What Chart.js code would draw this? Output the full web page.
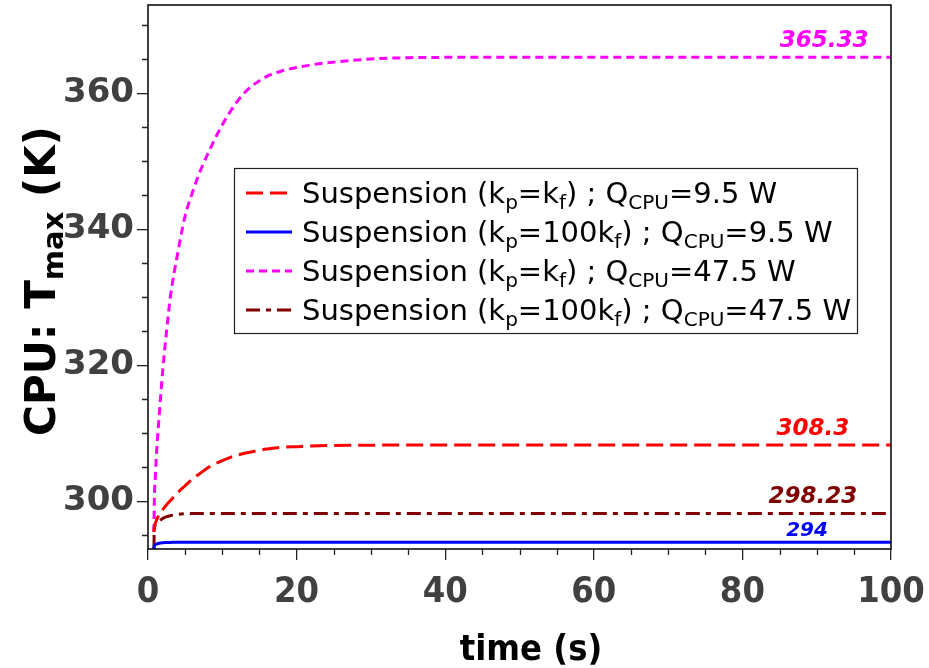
<!DOCTYPE html>
<html>
<head>
<meta charset="utf-8">
<script src="https://cdn.jsdelivr.net/npm/chart.js@4.4.1/dist/chart.umd.min.js"></script>
<style>
  html, body { margin: 0; padding: 0; background: #fff; }
  #wrap { width: 929px; height: 668px; }
</style>
</head>
<body>
<div id="wrap"><canvas id="chart" width="929" height="668"></canvas></div>
<script>
// time axis (s), shared by all four curves
const times = [0.8, 0.85, 1, 1.2, 1.5, 2, 2.5, 3, 4, 5, 6, 7, 8, 9, 10, 11, 12, 13, 14, 16, 18, 20, 22, 25, 30, 35, 40, 50, 60, 70, 80, 90, 100];

// CPU max temperature (K)
const redVals     = [295.5, 296.2, 296.8, 297.4, 298.0, 298.8, 299.5, 300.1, 301.3, 302.3, 303.3, 304.1, 304.9, 305.5, 306.0, 306.45, 306.8, 307.08, 307.3, 307.7, 307.95, 308.05, 308.15, 308.22, 308.27, 308.3, 308.3, 308.3, 308.3, 308.3, 308.3, 308.3, 308.3];
const blueVals    = [293, 293.5, 293.65, 293.75, 293.85, 293.92, 293.95, 293.97, 294, 294, 294, 294, 294, 294, 294, 294, 294, 294, 294, 294, 294, 294, 294, 294, 294, 294, 294, 294, 294, 294, 294, 294, 294];
const magentaVals = [295.5, 300, 304, 308, 312.5, 319.5, 325, 330, 336.5, 342, 345.5, 348.5, 351, 353.3, 355.4, 357.2, 358.8, 360.1, 361.1, 362.5, 363.3, 363.8, 364.2, 364.6, 365.05, 365.25, 365.3, 365.33, 365.33, 365.33, 365.33, 365.33, 365.33];
const darkredVals = [293, 296.2, 296.5, 296.8, 297.1, 297.5, 297.75, 297.9, 298.1, 298.18, 298.21, 298.23, 298.23, 298.23, 298.23, 298.23, 298.23, 298.23, 298.23, 298.23, 298.23, 298.23, 298.23, 298.23, 298.23, 298.23, 298.23, 298.23, 298.23, 298.23, 298.23, 298.23, 298.23];

// legend text, _{..} marks subscripts
const seriesLabels = [
  'Suspension (k_{p}=k_{f}) ; Q_{CPU}=9.5 W',
  'Suspension (k_{p}=100k_{f}) ; Q_{CPU}=9.5 W',
  'Suspension (k_{p}=k_{f}) ; Q_{CPU}=47.5 W',
  'Suspension (k_{p}=100k_{f}) ; Q_{CPU}=47.5 W'
];
const endLabels = ['308.3', '294', '365.33', '298.23'];

const xTicks = [0, 20, 40, 60, 80, 100];
const yTicks = [300, 320, 340, 360];

const colors = ['#ff0000', '#0000ff', '#ff00ff', '#800000'];
const dashes = [[17, 7], [], [8, 5], [14, 6, 5, 6]];
const allVals = [redVals, blueVals, magentaVals, darkredVals];

function toPoints(vals) {
  return times.map((t, i) => ({ x: t, y: vals[i] }));
}

function parseRich(str) {
  const parts = [];
  const re = /_\{([^}]*)\}/g;
  let last = 0, m;
  while ((m = re.exec(str)) !== null) {
    if (m.index > last) parts.push({ t: str.slice(last, m.index), sub: false });
    parts.push({ t: m[1], sub: true });
    last = re.lastIndex;
  }
  if (last < str.length) parts.push({ t: str.slice(last), sub: false });
  return parts;
}

function drawRich(ctx, parts, x, y, size, family, weight) {
  ctx.textBaseline = 'alphabetic';
  ctx.textAlign = 'left';
  for (const p of parts) {
    const s = p.sub ? Math.round(size * 0.7) : size;
    ctx.font = weight + ' ' + s + 'px ' + family;
    ctx.fillText(p.t, x, p.sub ? y + size * 0.2 : y);
    x += ctx.measureText(p.t).width;
  }
  return x;
}

function richWidth(ctx, parts, size, family, weight) {
  let w = 0;
  for (const p of parts) {
    ctx.font = weight + ' ' + (p.sub ? Math.round(size * 0.7) : size) + 'px ' + family;
    w += ctx.measureText(p.t).width;
  }
  return w;
}

const decorPlugin = {
  id: 'decor',
  afterDatasetsDraw(chart) {
    const ctx = chart.ctx;
    const a = chart.chartArea;
    const xs = chart.scales.x, ys = chart.scales.y;
    ctx.save();

    // frame
    ctx.strokeStyle = '#000';
    ctx.lineWidth = 1.5;
    ctx.strokeRect(a.left, a.top, a.right - a.left, a.bottom - a.top);

    // minor ticks
    ctx.strokeStyle = '#222';
    ctx.lineWidth = 1.3;
    ctx.beginPath();
    for (let v = 5; v < 100; v += 5) {
      if (v % 20 === 0) continue;
      const px = Math.round(xs.getPixelForValue(v)) + 0.5;
      ctx.moveTo(px, a.bottom); ctx.lineTo(px, a.bottom + 6);
    }
    for (let v = 295; v <= 370; v += 5) {
      if (v % 20 === 0) continue;
      const py = Math.round(ys.getPixelForValue(v)) + 0.5;
      ctx.moveTo(a.left, py); ctx.lineTo(a.left - 6, py);
    }
    ctx.stroke();

    // end value labels, placed near t = 89..91
    const labelAt = [89.5, 88.7, 91, 89.5];
    ctx.textAlign = 'center';
    ctx.textBaseline = 'alphabetic';
    chart.data.datasets.forEach((ds, i) => {
      const last = allVals[i][allVals[i].length - 1];
      const small = endLabels[i] === '294';
      ctx.font = 'italic bold ' + (small ? 20 : 23) + 'px "DejaVu Sans"';
      ctx.fillStyle = colors[i];
      const px = xs.getPixelForValue(labelAt[i]);
      const py = ys.getPixelForValue(last) - (small ? 6 : 10);
      ctx.fillText(endLabels[i], px, py);
    });

    // legend box
    const lx = 234, ly = 168, lw = 623, lh = 165;
    ctx.fillStyle = '#fff';
    ctx.fillRect(lx, ly, lw, lh);
    ctx.strokeStyle = '#222';
    ctx.lineWidth = 1.2;
    ctx.strokeRect(lx + 0.5, ly + 0.5, lw, lh);
    chart.data.datasets.forEach((ds, i) => {
      const cy = 193 + i * 39;
      ctx.strokeStyle = colors[i];
      ctx.lineWidth = 3;
      ctx.setLineDash(dashes[i]);
      ctx.beginPath();
      ctx.moveTo(246, cy); ctx.lineTo(292, cy);
      ctx.stroke();
      ctx.setLineDash([]);
      ctx.fillStyle = '#000';
      drawRich(ctx, parseRich(seriesLabels[i]), 302, cy + 10, 29, '"DejaVu Sans"', 'normal');
    });

    // axis titles
    ctx.fillStyle = '#000';
    ctx.font = 'bold 36px "DejaVu Sans Condensed", "DejaVu Sans"';
    ctx.textAlign = 'center';
    ctx.textBaseline = 'alphabetic';
    ctx.fillText('time (s)', 531, 660);

    ctx.translate(55, (a.top + a.bottom) / 2 + 4);
    ctx.rotate(-Math.PI / 2);
    const yParts = parseRich('CPU: T_{max} (K)');
    const w = richWidth(ctx, yParts, 42, '"DejaVu Sans"', 'bold');
    drawRich(ctx, yParts, -w / 2, 0, 42, '"DejaVu Sans"', 'bold');
    ctx.restore();
  }
};

new Chart(document.getElementById('chart'), {
  type: 'line',
  data: {
    datasets: seriesLabels.map((lab, i) => ({
      label: lab.replace(/_\{([^}]*)\}/g, '$1'),
      data: toPoints(allVals[i]),
      borderColor: colors[i],
      borderWidth: 3,
      borderDash: dashes[i],
      pointRadius: 0,
      fill: false,
      cubicInterpolationMode: 'monotone'
    }))
  },
  options: {
    responsive: false,
    animation: false,
    layout: { padding: { top: 5, right: 38, left: 0, bottom: 0 } },
    plugins: { legend: { display: false }, tooltip: { enabled: false } },
    scales: {
      x: {
        type: 'linear',
        min: 0, max: 100,
        afterFit: s => { s.height = 119; s.paddingLeft = 0; s.paddingRight = 0; },
        afterBuildTicks: s => { s.ticks = xTicks.map(v => ({ value: v })); },
        grid: { drawOnChartArea: false, drawTicks: true, tickLength: 11, color: '#222', lineWidth: 1.3 },
        border: { display: false },
        ticks: {
          color: '#404040', padding: 11, maxRotation: 0,
          font: { family: '"DejaVu Sans Condensed", "DejaVu Sans"', weight: 'bold', size: 36 }
        }
      },
      y: {
        type: 'linear',
        min: 293, max: 373,
        afterFit: s => { s.width = 148; s.paddingTop = 0; s.paddingBottom = 0; },
        afterBuildTicks: s => { s.ticks = yTicks.map(v => ({ value: v })); },
        grid: { drawOnChartArea: false, drawTicks: true, tickLength: 11, color: '#222', lineWidth: 1.3 },
        border: { display: false },
        ticks: {
          color: '#404040', padding: 3,
          font: { family: '"DejaVu Sans"', weight: 'bold', size: 34 }
        }
      }
    }
  },
  plugins: [decorPlugin]
});
</script>
</body>
</html>
